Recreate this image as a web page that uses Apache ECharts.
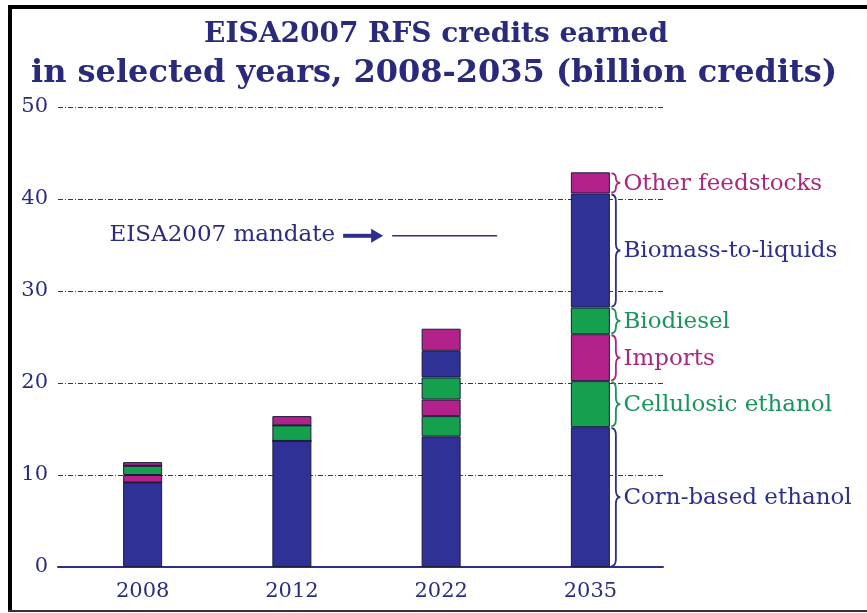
<!DOCTYPE html>
<html>
<head>
<meta charset="utf-8">
<script src="https://cdn.jsdelivr.net/npm/echarts@6/dist/echarts.min.js"></script>
<style>
  html, body { margin: 0; padding: 0; background: #ffffff; }
  #chart { width: 867px; height: 613px; }
</style>
</head>
<body>
<div id="chart"></div>
<script>
// RFS credits by source, billion credits
const categories = ['2008', '2012', '2022', '2035'];
const cornEthanol = [9.2, 13.7, 14.2, 15.2];
const cellulosicEthanol = [0, 0, 2.2, 5.0];
const imports = [0.8, 0, 1.8, 5.1];
const biodiesel = [1.0, 1.7, 2.4, 2.9];
const biomassToLiquids = [0, 0, 2.9, 12.4];
const otherFeedstocks = [0.4, 1.0, 2.4, 2.3];
const mandateLevel = 36;
const yTicks = [0, 10, 20, 30, 40, 50];

const NAVY = '#2e2f8c';
const BLUE = '#2f3196';
const MAGENTA = '#b3218a';
const GREEN = '#14a04c';
const TEXT_NAVY = '#2b2c7e';
const LABEL_MAGENTA = '#a8277f';
const LABEL_GREEN = '#17955a';
const SERIF = '"DejaVu Serif", "Liberation Serif", serif';

const segments = [
  { name: 'Corn-based ethanol', values: cornEthanol, fill: BLUE, label: NAVY },
  { name: 'Cellulosic ethanol', values: cellulosicEthanol, fill: GREEN, label: LABEL_GREEN },
  { name: 'Imports', values: imports, fill: MAGENTA, label: LABEL_MAGENTA },
  { name: 'Biodiesel', values: biodiesel, fill: GREEN, label: LABEL_GREEN },
  { name: 'Biomass-to-liquids', values: biomassToLiquids, fill: BLUE, label: NAVY },
  { name: 'Other feedstocks', values: otherFeedstocks, fill: MAGENTA, label: LABEL_MAGENTA }
];

// Brace annotations for the last year: [category, bottom, top, segment index]
const lastIdx = categories.length - 1;
const braceData = [];
let running = 0;
segments.forEach((s, i) => {
  const v = s.values[lastIdx];
  braceData.push([lastIdx, running, running + v, i]);
  running += v;
});

const chart = echarts.init(document.getElementById('chart'), null, { renderer: 'canvas' });

const barSeries = segments.map((s) => ({
  name: s.name,
  type: 'bar',
  stack: 'total',
  xAxisIndex: 1,
  yAxisIndex: 1,
  barWidth: 39,
  data: s.values,
  itemStyle: { color: s.fill, borderColor: '#1c1c3c', borderWidth: 1 },
  silent: true
}));

function bracePath(x, yTop, yBot, w) {
  const ym = (yTop + yBot) / 2;
  const r = Math.min(7, (yBot - yTop) / 4);
  const xm = x + w / 2;
  return 'M' + x + ' ' + yTop +
    ' Q' + xm + ' ' + yTop + ' ' + xm + ' ' + (yTop + r) +
    ' L' + xm + ' ' + (ym - r) +
    ' Q' + xm + ' ' + ym + ' ' + (x + w) + ' ' + ym +
    ' Q' + xm + ' ' + ym + ' ' + xm + ' ' + (ym + r) +
    ' L' + xm + ' ' + (yBot - r) +
    ' Q' + xm + ' ' + yBot + ' ' + x + ' ' + yBot;
}

const braceSeries = {
  type: 'custom',
  xAxisIndex: 1,
  yAxisIndex: 1,
  silent: true,
  data: braceData,
  renderItem: function (params, api) {
    const cat = api.value(0);
    const lo = api.value(1);
    const hi = api.value(2);
    const seg = segments[api.value(3)];
    const pTop = api.coord([cat, hi]);
    const pBot = api.coord([cat, lo]);
    const x0 = pTop[0] + 21;
    return {
      type: 'group',
      children: [
        {
          type: 'path',
          shape: { pathData: bracePath(x0, pTop[1] + 1, pBot[1] - 1, 9) },
          style: { fill: null, stroke: seg.label, lineWidth: 1.8 }
        },
        {
          type: 'text',
          x: x0 + 12,
          y: (pTop[1] + pBot[1]) / 2 + 1,
          style: {
            text: seg.name,
            fill: seg.label,
            font: '23px ' + SERIF,
            verticalAlign: 'middle',
            align: 'left'
          }
        }
      ]
    };
  }
};

// Mandate marker drawn around the 2022 column
const mandateSeries = {
  type: 'custom',
  xAxisIndex: 1,
  yAxisIndex: 1,
  silent: true,
  data: [[2, mandateLevel]],
  renderItem: function (params, api) {
    const p = api.coord([api.value(0), api.value(1)]);
    const cx = p[0];
    const y = p[1];
    return {
      type: 'group',
      children: [
        {
          type: 'line',
          shape: { x1: cx - 49, y1: y, x2: cx + 56, y2: y },
          style: { stroke: NAVY, lineWidth: 1.4 }
        },
        {
          type: 'line',
          shape: { x1: cx - 98, y1: y, x2: cx - 68, y2: y },
          style: { stroke: NAVY, lineWidth: 4 }
        },
        {
          type: 'polygon',
          shape: { points: [[cx - 70, y - 7], [cx - 58, y], [cx - 70, y + 7]] },
          style: { fill: NAVY }
        },
        {
          type: 'text',
          x: cx - 106,
          y: y - 1,
          style: {
            text: 'EISA2007 mandate',
            fill: TEXT_NAVY,
            font: '23px ' + SERIF,
            align: 'right',
            verticalAlign: 'middle'
          }
        }
      ]
    };
  }
};

const titleStyle = {
  fontFamily: SERIF,
  fontWeight: 'bold',
  color: '#2a2a7c'
};

const option = {
  backgroundColor: '#ffffff',
  animation: false,
  title: [
    {
      text: 'EISA2007 RFS credits earned',
      left: 431,
      textAlign: 'center',
      top: 16,
      textStyle: Object.assign({ fontSize: 28 }, titleStyle)
    },
    {
      text: 'in selected years, 2008-2035 (billion credits)',
      left: 429,
      textAlign: 'center',
      top: 53,
      textStyle: Object.assign({ fontSize: 32 }, titleStyle)
    }
  ],
  graphic: [
    { type: 'rect', shape: { x: 8, y: 5, width: 859, height: 4 }, style: { fill: '#000' }, silent: true },
    { type: 'rect', shape: { x: 8, y: 5, width: 4, height: 607 }, style: { fill: '#000' }, silent: true },
    { type: 'rect', shape: { x: 8, y: 610, width: 859, height: 2 }, style: { fill: '#333' }, silent: true }
  ],
  grid: [
    { left: 58, right: 204, top: 107, bottom: 46 },
    { left: 68, right: 202, top: 107, bottom: 46 }
  ],
  xAxis: [
    {
      type: 'category',
      gridIndex: 0,
      data: categories,
      axisLine: { show: true, lineStyle: { color: NAVY, width: 2 } },
      axisTick: { show: false },
      axisLabel: { show: false },
      splitLine: { show: false }
    },
    {
      type: 'category',
      gridIndex: 1,
      data: categories,
      axisLine: { show: false },
      axisTick: { show: false },
      axisLabel: {
        margin: 14,
        color: TEXT_NAVY,
        fontFamily: SERIF,
        fontSize: 21
      },
      splitLine: { show: false }
    }
  ],
  yAxis: [
    {
      type: 'value',
      gridIndex: 0,
      min: yTicks[0],
      max: yTicks[yTicks.length - 1],
      interval: 10,
      axisLine: { show: false },
      axisTick: { show: false },
      axisLabel: {
        margin: 10,
        color: TEXT_NAVY,
        fontFamily: SERIF,
        fontSize: 21
      },
      splitLine: {
        show: true,
        lineStyle: { color: NAVY, width: 1, type: [5, 2, 1, 2] }
      }
    },
    {
      type: 'value',
      gridIndex: 1,
      min: yTicks[0],
      max: yTicks[yTicks.length - 1],
      interval: 10,
      show: false,
      splitLine: { show: false }
    }
  ],
  series: barSeries.concat([braceSeries, mandateSeries])
};

chart.setOption(option);
</script>
</body>
</html>
